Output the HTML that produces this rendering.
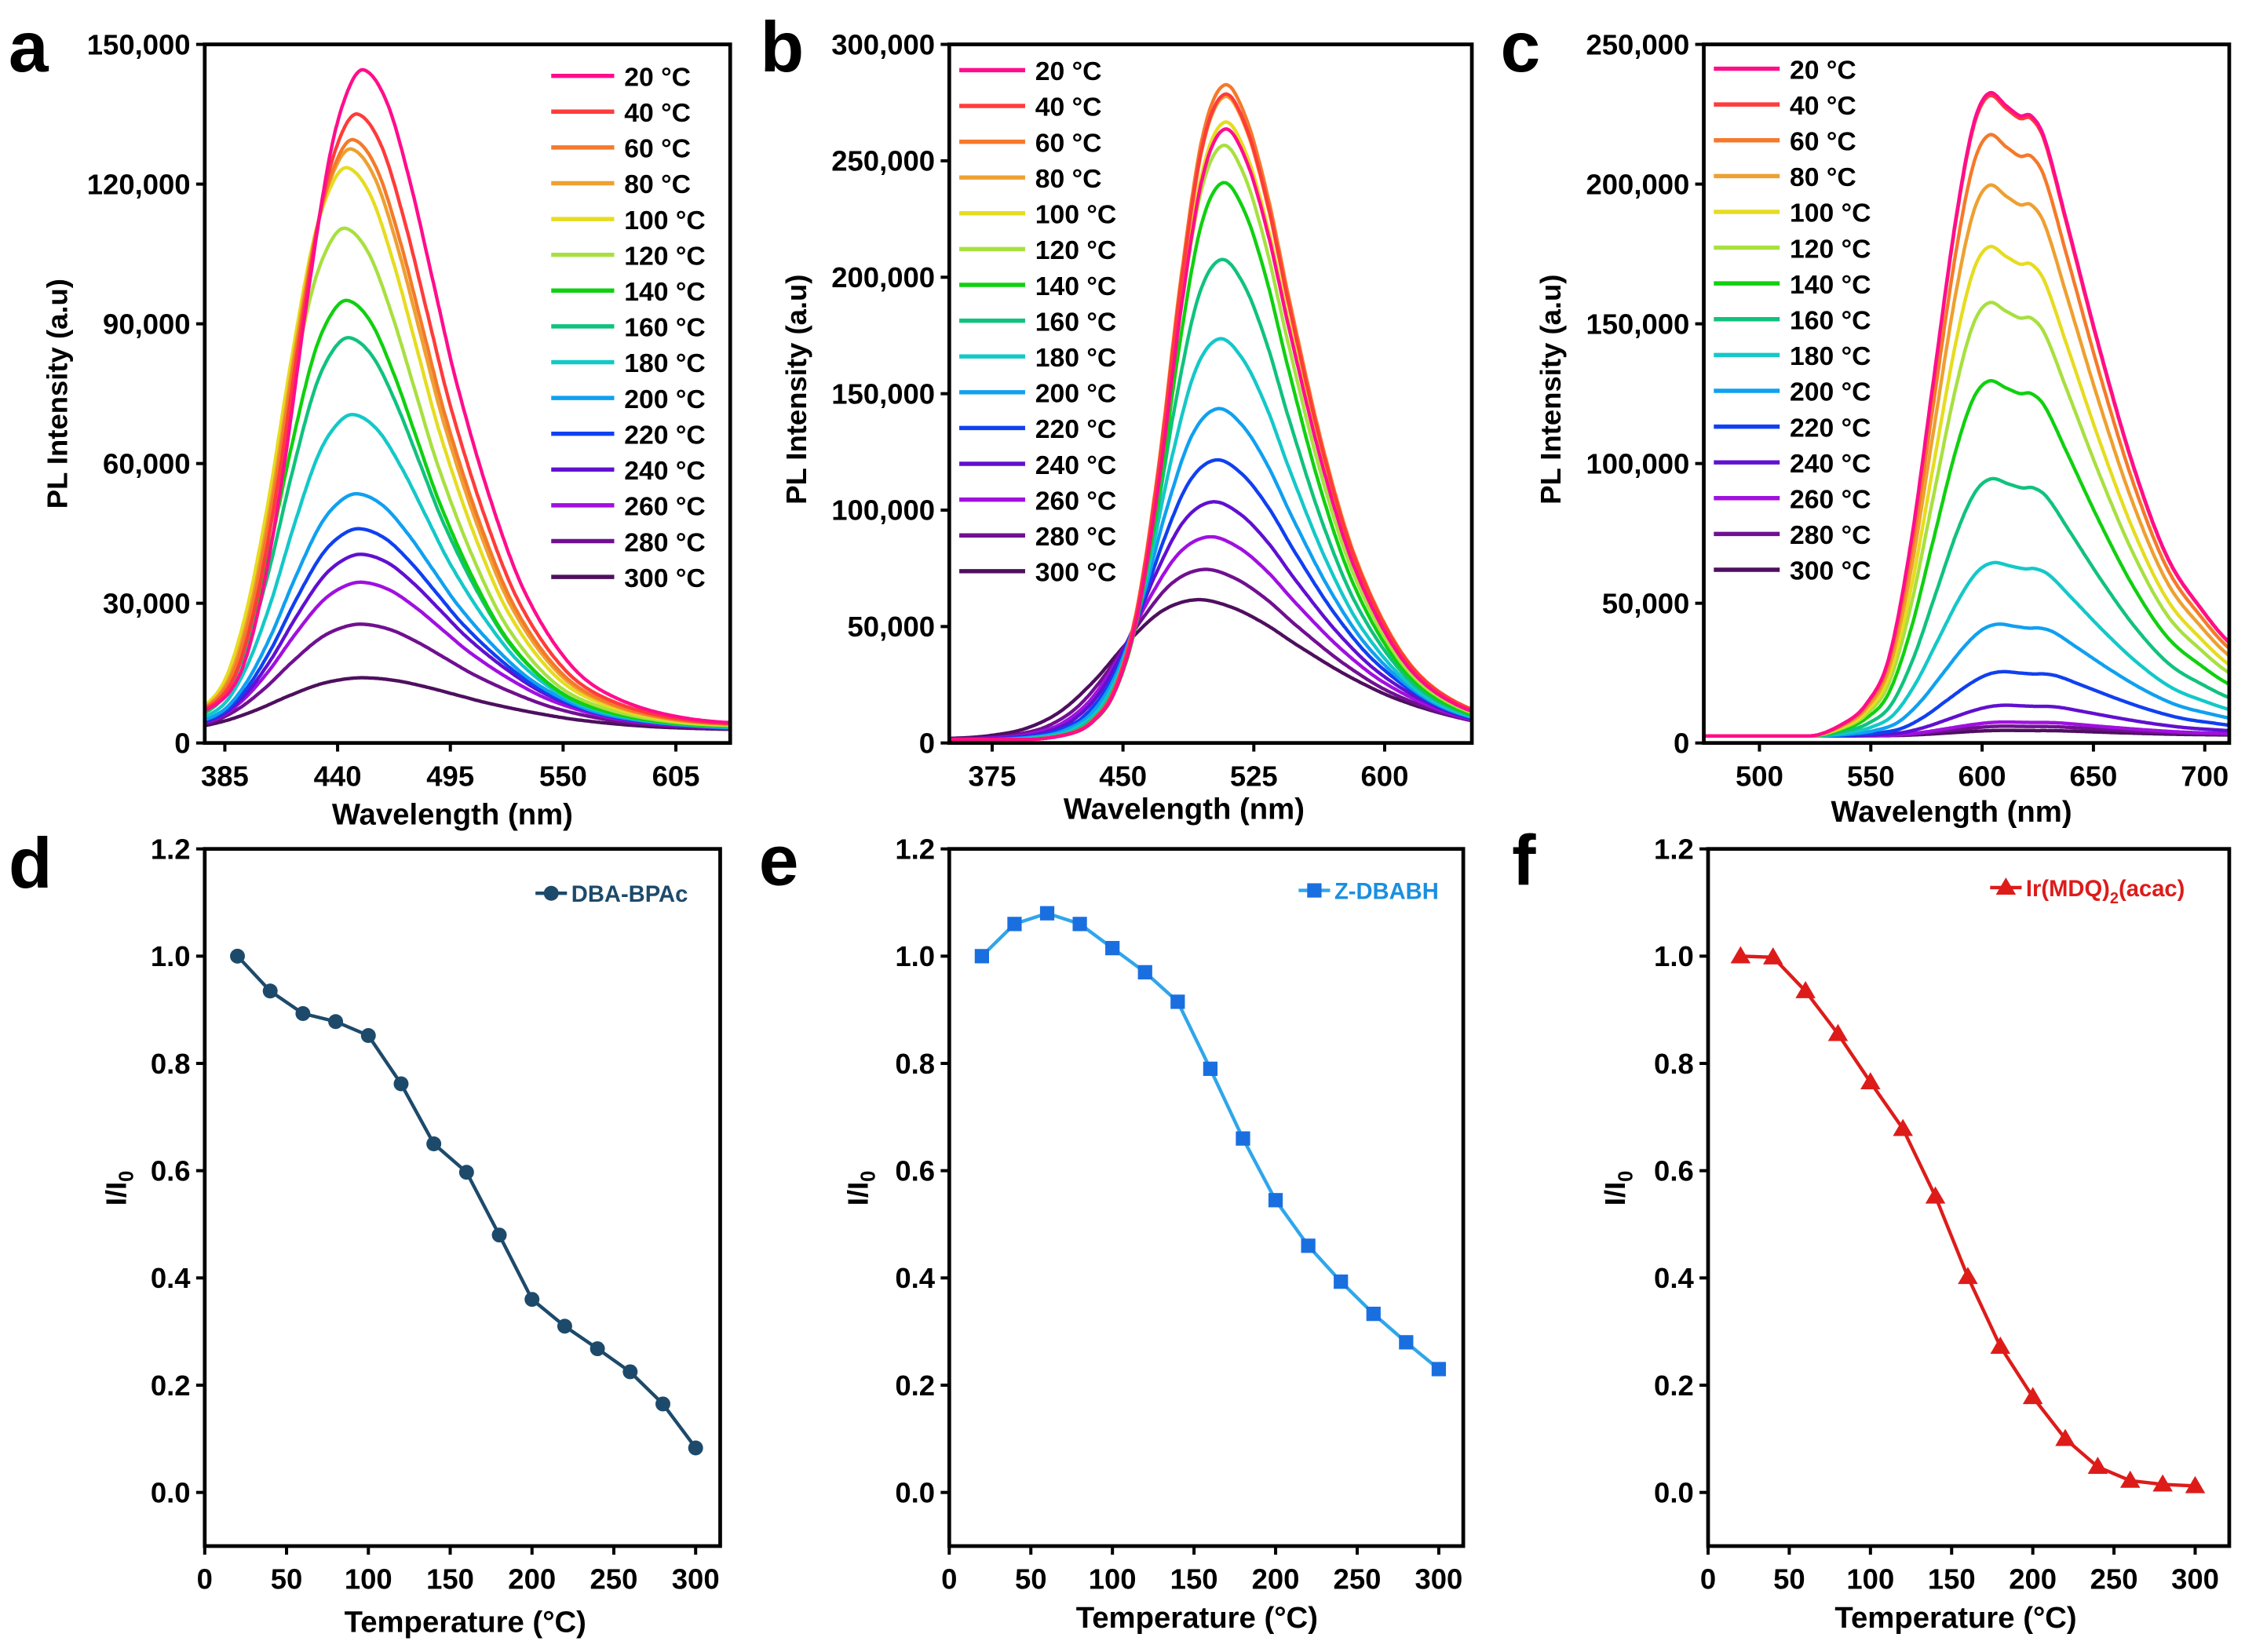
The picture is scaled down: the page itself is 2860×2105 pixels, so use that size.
<!DOCTYPE html>
<html><head><meta charset="utf-8">
<style>
html,body{margin:0;padding:0;background:#fff;}
svg{display:block;}
text{font-family:"Liberation Sans",Arial,sans-serif;font-weight:bold;fill:#000;}
</style></head>
<body>
<svg id="fig" width="2860" height="2105" viewBox="0 0 1568 1154" preserveAspectRatio="none" xmlns="http://www.w3.org/2000/svg"></svg>
<script>
// ---------- data ----------
const temps = [20,40,60,80,100,120,140,160,180,200,220,240,260,280,300];
const tempColors = ['#ff0d8c','#ff3b3b','#f5792a','#eea030','#e6dc20','#a8e040','#10d010','#10c27e','#14c8c8','#10a0f0','#1040f0','#6010d0','#a010e0','#701090','#4e0f5e'];

// panel a spectra
const aPeaks = [142000,132500,127000,125000,121000,108000,92500,84500,68000,51000,43500,38000,32000,23000,11500];
const aPeakWl = [453,450,448,447,445,444,445,446,448,450,451,452,452,452,453];
const aWidth = [1.12,1.12,1.12,1.12,1.12,1.12,1.12,1.14,1.17,1.22,1.25,1.28,1.31,1.36,1.5];
const aShapeOff = [-90,-70,-55,-45,-35,-25,-15,-7,0,10,20,30,40,55,70,90,110,140,180,260];
const aShapeVal = [0.01,0.03,0.08,0.2,0.4,0.65,0.87,0.97,1,0.95,0.83,0.68,0.53,0.35,0.21,0.1,0.05,0.02,0.01,0];
const aTicksX = [385,440,495,550,605];
const aTicksY = [0,30000,60000,90000,120000,150000];

// panel b spectra
const bPeaks = [262000,277000,281000,276000,265000,255000,239000,206000,172000,142000,120000,102000,87000,73000,60000];
const bPeakWl = [508,508,508,508,508,507,507,506,505,504,503,501,499,496,492];
const bWidth = [1.25,1.25,1.25,1.25,1.25,1.25,1.25,1.3,1.36,1.44,1.52,1.6,1.68,1.78,1.95];
const bShapeOff = [-160,-90,-70,-60,-50,-40,-30,-20,-10,0,10,20,30,45,60,80,100,130,200];
const bShapeVal = [0,0,0.01,0.03,0.08,0.2,0.42,0.7,0.92,1,0.95,0.83,0.67,0.45,0.28,0.14,0.07,0.03,0];
const bTicksX = [375,450,525,600];
const bTicksY = [0,50000,100000,150000,200000,250000,300000];

// panel c spectra
const cPeaks = [230000,229000,215000,197000,175000,155000,127000,92000,62000,40000,23000,11000,5000,3500,2000];
const cPeakWl = [603,603,603,603,603,603,603,604,605,607,609,610,610,610,610];
const cShapeOff = [-130,-80,-65,-55,-45,-35,-25,-15,-7,0,8,14,19,25,35,50,65,80,95,110,140];
const cShapeVal = [0,0,0.02,0.05,0.12,0.3,0.55,0.8,0.95,1,0.98,0.965,0.965,0.93,0.8,0.6,0.42,0.28,0.2,0.14,0.08];
const cTicksX = [500,550,600,650,700];
const cTicksY = [0,50000,100000,150000,200000,250000];

// bottom panels
const tempX = [20,40,60,80,100,120,140,160,180,200,220,240,260,280,300];
const dVals = [1.0,0.935,0.893,0.878,0.852,0.762,0.65,0.597,0.48,0.36,0.31,0.268,0.225,0.165,0.083];
const eVals = [1.0,1.06,1.08,1.06,1.015,0.97,0.915,0.79,0.66,0.545,0.46,0.393,0.333,0.28,0.23];
const fVals = [1.0,0.998,0.935,0.855,0.765,0.678,0.552,0.402,0.272,0.178,0.1,0.048,0.022,0.015,0.012];
const tTicksX = [0,50,100,150,200,250,300];
const rTicksY = [0.0,0.2,0.4,0.6,0.8,1.0,1.2];

// ---------- drawing ----------
const NS='http://www.w3.org/2000/svg';
const svg=document.getElementById('fig');
function mk(tag,attrs,parent){const e=document.createElementNS(NS,tag);for(const k in attrs)e.setAttribute(k,attrs[k]);(parent||svg).appendChild(e);return e;}
function fmt(v){return v.toLocaleString('en-US');}
// Catmull-Rom interpolation over sampled shape points
function interp(offs,vals,o){
  const n=offs.length;
  if(o<=offs[0])return vals[0];
  if(o>=offs[n-1])return vals[n-1];
  let i=1;while(o>offs[i])i++;
  const x0=offs[i-1],x1=offs[i],t=(o-x0)/(x1-x0);
  const p1=vals[i-1],p2=vals[i];
  const p0=i>=2?vals[i-2]:p1, p3=i+1<n?vals[i+1]:p2;
  const xm=i>=2?offs[i-2]:x0-(x1-x0), xp=i+1<n?offs[i+1]:x1+(x1-x0);
  const m1=(p2-p0)/(x1-xm)*(x1-x0), m2=(p3-p1)/(xp-x0)*(x1-x0);
  const t2=t*t,t3=t2*t;
  const v=(2*t3-3*t2+1)*p1+(t3-2*t2+t)*m1+(-2*t3+3*t2)*p2+(t3-t2)*m2;
  return Math.max(0,v);
}

function axes(g,P,ticksX,ticksY,yfmt,name){
  const sx=v=>P.x0+(v-P.dx0)/(P.dx1-P.dx0)*(P.x1-P.x0);
  const sy=v=>P.y1-(v-P.dy0)/(P.dy1-P.dy0)*(P.y1-P.y0);
  ticksX.forEach(t=>{
    const x=sx(t);
    const tk=mk('line',{x1:x,x2:x,y1:P.y1,y2:P.y1+6,stroke:'#000','stroke-width':2.2},g);
    
    
    const tl=mk('text',{x:x,y:P.y1+30,'text-anchor':'middle','font-size':20},g);tl.textContent=t;
    
    
  });
  ticksY.forEach(t=>{
    const y=sy(t);
    const tk=mk('line',{x1:P.x0-6,x2:P.x0,y1:y,y2:y,stroke:'#000','stroke-width':2.2},g);
    
    
    const tl=mk('text',{x:P.x0-10,y:y+7,'text-anchor':'end','font-size':20},g);tl.textContent=yfmt(t);
    
    
  });
  return {sx,sy};
}
function frame(g,P){
  const r=mk('rect',{x:P.x0,y:P.y0,width:P.x1-P.x0,height:P.y1-P.y0,fill:'none',stroke:'#000','stroke-width':2.6},g);
  
  
}
function letter(g,ch,x,y){
  const t=mk('text',{x:x,y:y,'font-size':50},g);t.textContent=ch;
  
  
}
function titles(g,xt,xx,xy,yt,yx,yy,sub){
  const t=mk('text',{x:xx,y:xy,'text-anchor':'middle','font-size':21},g);t.textContent=xt;
  
  
  const u=mk('text',{x:0,y:0,'text-anchor':'middle','font-size':20,transform:`translate(${yx},${yy}) rotate(-90)`},g);
  if(sub){u.textContent='I/I';const s=mk('tspan',{'font-size':14,dy:5},u);s.textContent='0';}
  else u.textContent=yt;
  
  
}

function spectraPanel(id,P,peaks,peakWl,widths,offs,vals,base,ticksX,ticksY,leg){
  const g=mk('g',{});
  
  
  const {sx,sy}=axes(g,P,ticksX,ticksY,fmt);
  const cp=mk('clipPath',{id:'clip-'+id},g);mk('rect',{x:P.x0,y:P.y0,width:P.x1-P.x0,height:P.y1-P.y0},cp);
  const cg=mk('g',{'clip-path':`url(#clip-${id})`},g);
  for(let s=temps.length-1;s>=0;s--){
    let d='';
    for(let w=P.dx0;w<=P.dx1;w+=0.5){
      const wdt=widths?widths[s]:1;
      const v=base+peaks[s]*interp(offs,vals,(w-peakWl[s])/wdt);
      d+=(d?'L':'M')+sx(w).toFixed(1)+','+sy(v).toFixed(1);
    }
    const p=mk('path',{d:d,fill:'none',stroke:tempColors[s],'stroke-width':2.4,'stroke-linejoin':'round'},cg);
    
    
  }
  temps.forEach((t,i)=>{
    const y=leg.y+i*leg.dy;
    const l=mk('line',{x1:leg.x,x2:leg.x+leg.len,y1:y,y2:y,stroke:tempColors[i],'stroke-width':3},g);
    
    
    const tx=mk('text',{x:leg.x+leg.len+7,y:y+7,'font-size':18.5},g);tx.textContent=t+' °C';
    
    
  });
  frame(g,P);
  return g;
}

const PA={x0:143,x1:510,y0:31,y1:519,dx0:375.2,dx1:631.5,dy0:0,dy1:150000};
const ga=spectraPanel('a',PA,aPeaks,aPeakWl,aWidth,aShapeOff,aShapeVal,2500,aTicksX,aTicksY,{x:385,y:53,dy:25,len:44});
letter(ga,'a',6,50);
titles(ga,'Wavelength (nm)',316,576,'PL Intensity (a.u)',47,275);

const PB={x0:663,x1:1028,y0:31,y1:519,dx0:350.4,dx1:650,dy0:0,dy1:300000};
const gb=spectraPanel('b',PB,bPeaks,bPeakWl,bWidth,bShapeOff,bShapeVal,1500,bTicksX,bTicksY,{x:670,y:49,dy:25,len:46});
letter(gb,'b',531,50);
titles(gb,'Wavelength (nm)',827,572,'PL Intensity (a.u)',563,272);

const PC={x0:1190,x1:1557,y0:31,y1:519,dx0:475,dx1:711,dy0:0,dy1:250000};
const gc=spectraPanel('c',PC,cPeaks,cPeakWl,null,cShapeOff,cShapeVal,2500,cTicksX,cTicksY,{x:1197,y:48,dy:25,len:46});
letter(gc,'c',1048,50);
titles(gc,'Wavelength (nm)',1363,574,'PL Intensity (a.u)',1090,272);

function markerShape(g,type,x,y,color){
  let m;
  if(type==='circle')m=mk('circle',{cx:x,cy:y,r:5.2,fill:color},g);
  else if(type==='square')m=mk('rect',{x:x-5,y:y-5,width:10,height:10,fill:color},g);
  else m=mk('polygon',{points:`${x},${y-7} ${x+7},${y+5} ${x-7},${y+5}`,fill:color},g);
  return m;
}
function ratioPanel(id,P,vals,lineColor,markColor,type,leg){
  const g=mk('g',{});
  
  
  const {sx,sy}=axes(g,P,tTicksX,rTicksY,v=>v.toFixed(1));
  let d='';
  tempX.forEach((t,i)=>{d+=(i?'L':'M')+sx(t).toFixed(1)+','+sy(vals[i]).toFixed(1);});
  const p=mk('path',{d:d,fill:'none',stroke:lineColor,'stroke-width':2.4},g);
  
  
  tempX.forEach((t,i)=>{
    const m=markerShape(g,type,sx(t),sy(vals[i]),markColor);
    
    
  });
  const ll=mk('line',{x1:leg.x,x2:leg.x+22,y1:leg.y,y2:leg.y,stroke:lineColor,'stroke-width':2.4},g);
  
  
  const lm=markerShape(g,type,leg.x+11,leg.y,markColor);
  
  
  const lt=mk('text',{x:leg.x+25,y:leg.y+6,'font-size':16,style:'fill:'+leg.tc},g);
  if(leg.sub){lt.textContent='Ir(MDQ)';const s=mk('tspan',{'font-size':11,dy:5},lt);s.textContent='2';const s2=mk('tspan',{dy:-5},lt);s2.textContent='(acac)';}
  else lt.textContent=leg.label;
  
  
  frame(g,P);
  return g;
}
const PD={x0:143,x1:503,y0:593,y1:1080,dx0:0,dx1:315,dy0:-0.1,dy1:1.2};
const gd=ratioPanel('d',PD,dVals,'#1d4a6b','#1d4a6b','circle',{x:374,y:624,label:'DBA-BPAc',tc:'#1d4a6b'});
letter(gd,'d',6,620);
titles(gd,'Temperature (°C)',325,1140,'',88,830,true);

const PE={x0:663,x1:1022,y0:593,y1:1080,dx0:0,dx1:315,dy0:-0.1,dy1:1.2};
const ge=ratioPanel('e',PE,eVals,'#2fa6ea','#1a6fe0','square',{x:907,y:622,label:'Z-DBABH',tc:'#1a8fe0'});
letter(ge,'e',530,618);
titles(ge,'Temperature (°C)',836,1137,'',606,830,true);

const PF={x0:1193,x1:1557,y0:593,y1:1080,dx0:0,dx1:321,dy0:-0.1,dy1:1.2};
const gf=ratioPanel('f',PF,fVals,'#dd1c1a','#dd1c1a','tri',{x:1390,y:620,sub:true,tc:'#dd1c1a'});
letter(gf,'f',1056,618);
titles(gf,'Temperature (°C)',1366,1137,'',1135,830,true);
</script>
</body></html>
